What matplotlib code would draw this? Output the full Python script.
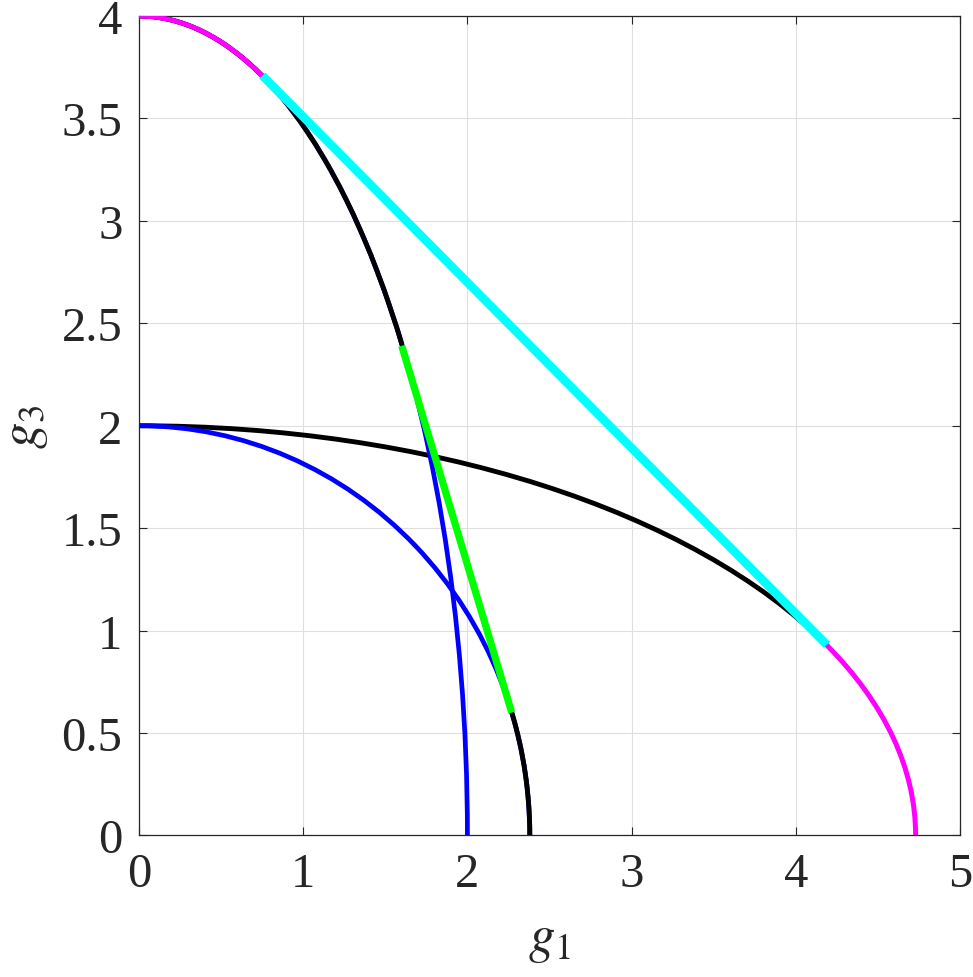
"""Quarter-ellipse sets in the (g1, g3) plane with their convex-hull tangents."""

import matplotlib

matplotlib.use("Agg")
import matplotlib.pyplot as plt
import numpy as np
from matplotlib.patches import Arc

plt.rcParams["font.family"] = ["Liberation Serif", "DejaVu Serif"]
plt.rcParams["mathtext.fontset"] = "stix"

# semi-axes of the three quarter ellipses
ell_names = ["E1", "E2", "E3"]
ell_a = [2.38, 2.0, 4.73]  # along g1
ell_b = [2.0, 4.0, 2.0]    # along g3

# tangent points where the straight segments touch the ellipses
hull_top = (0.75, 3.71)      # cyan / magenta joint on E2
hull_right = (4.19, 0.93)    # cyan / magenta joint on E3
inner_top = (1.60, 2.39)     # green / black joint on E2
inner_bottom = (2.27, 0.60)  # green / black joint on E1

xticks = [0, 1, 2, 3, 4, 5]
yticks = [0, 0.5, 1, 1.5, 2, 2.5, 3, 3.5, 4]
ytick_labels = ["0", "0.5", "1", "1.5", "2", "2.5", "3", "3.5", "4"]

BLUE = "#0000ff"
BLACK = "#000000"
GREEN = "#00ff00"
CYAN = "#00ffff"
MAGENTA = "#ff00ff"


def deg(pt):
    return np.degrees(np.arctan2(pt[1], pt[0]))


def arc(ax, name, t1, t2, color, lw, z):
    i = ell_names.index(name)
    ax.add_patch(Arc((0, 0), 2 * ell_a[i], 2 * ell_b[i], theta1=t1, theta2=t2,
                     color=color, lw=lw, zorder=z))


fig = plt.figure(figsize=(9.73, 9.78), dpi=100)
ax = fig.add_axes([0.1429, 0.1447, 0.8437, 0.8379])

# E3 outer ellipse: black up to the hull tangent, magenta beyond
arc(ax, "E3", deg(hull_right), 90, BLACK, 3.5, 2)
# inner ellipses in blue
arc(ax, "E1", 0, 90, BLUE, 3.4, 3)
arc(ax, "E2", 0, 90, BLUE, 3.4, 3)
# hull of E1 u E2 in black
arc(ax, "E2", deg(inner_top), 90, BLACK, 3.5, 4)
arc(ax, "E1", 0, deg(inner_bottom), BLACK, 3.5, 4)
# tangent segments
ax.plot([inner_top[0], inner_bottom[0]], [inner_top[1], inner_bottom[1]],
        color=GREEN, lw=5.2, solid_capstyle="butt", zorder=5)
ax.plot([hull_top[0], hull_right[0]], [hull_top[1], hull_right[1]],
        color=CYAN, lw=6.2, solid_capstyle="butt", zorder=6)
# outer hull arcs
arc(ax, "E2", deg(hull_top), 90, MAGENTA, 3.6, 6)
arc(ax, "E3", 0, deg(hull_right), MAGENTA, 3.6, 6)

ax.set_xlim(0, 5)
ax.set_ylim(0, 4)
ax.set_xticks(xticks)
ax.set_yticks(yticks, ytick_labels)
ax.grid(True, color="#dfdfdf", lw=0.8)
ax.set_axisbelow(True)
ax.tick_params(direction="in", length=6, width=0.8, color="#262626",
               top=True, right=True, labelsize=35, labelcolor="#262626", pad=12)
for s in ax.spines.values():
    s.set_color("#262626")
    s.set_linewidth(0.9)

ax.set_xlabel("$g_1$", fontsize=38, color="#262626", labelpad=14)
ax.set_ylabel("$g_3$", fontsize=38, color="#262626", labelpad=8)

fig.savefig("out.png", dpi=100)
